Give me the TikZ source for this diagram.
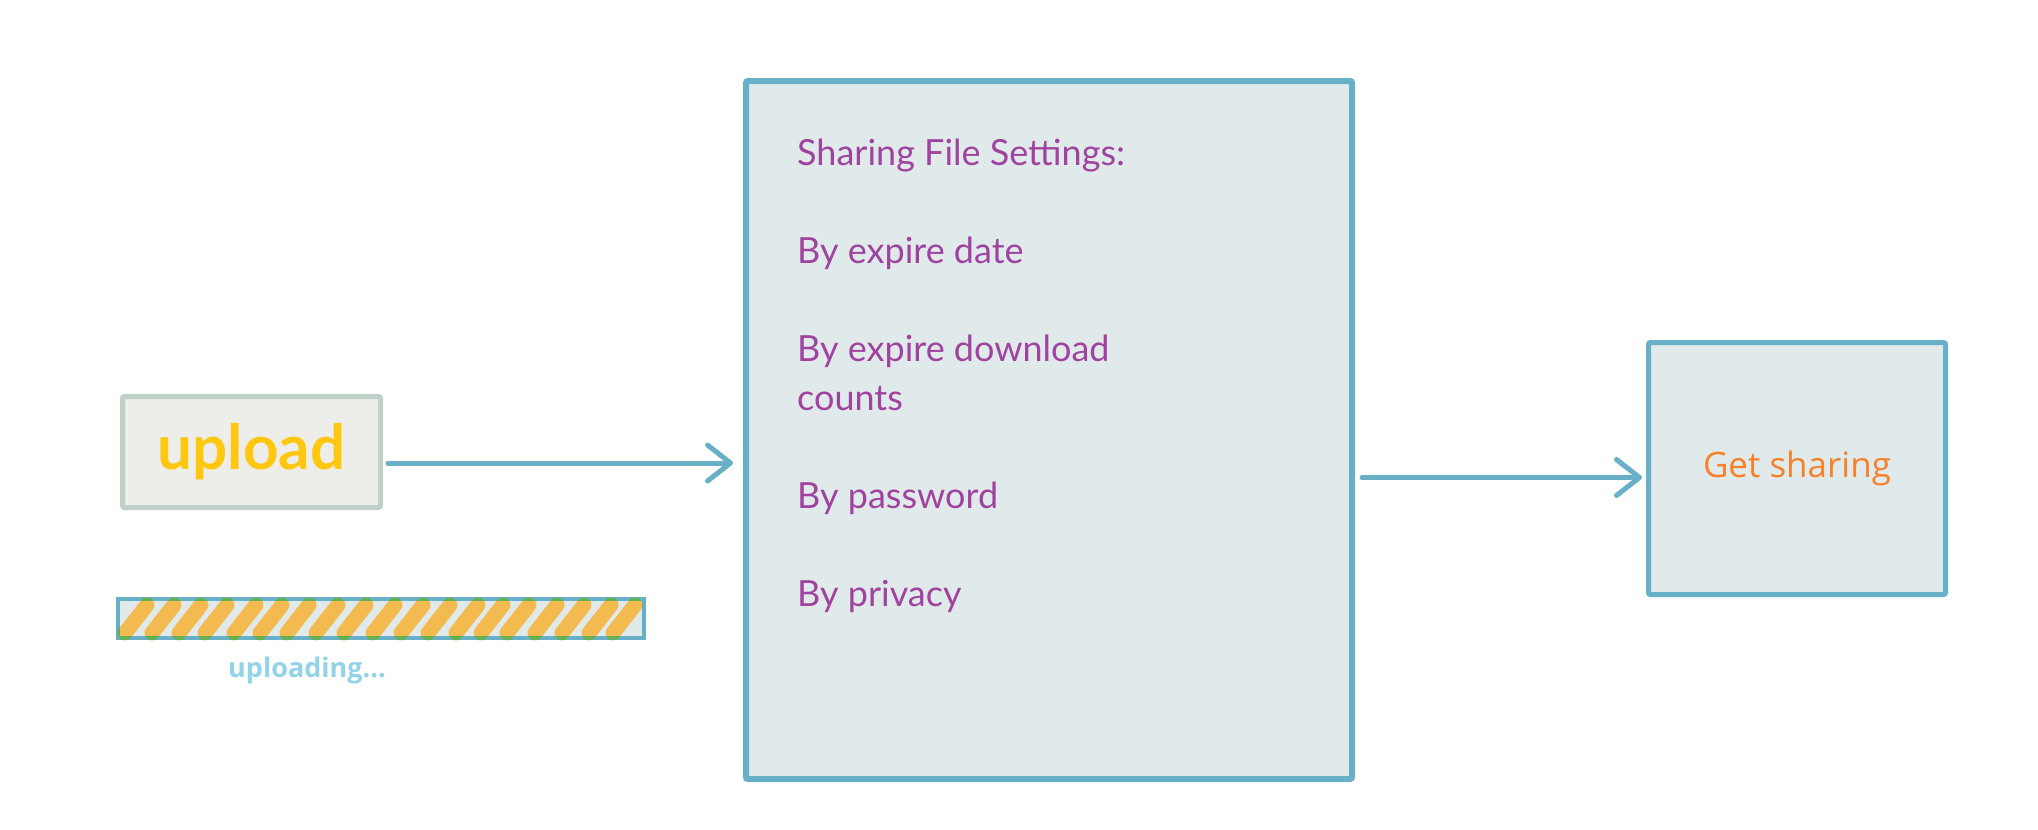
\documentclass[tikz,border=0pt]{standalone}
\usepackage{fontspec}
\usepackage{tikz}
\usetikzlibrary{arrows.meta}
\newfontfamily\handfont{Lato}
\newfontfamily\uifont{Open Sans}
\definecolor{boxline}{HTML}{67B0C7}
\definecolor{boxfill}{HTML}{E1EAEA}
\definecolor{uploadline}{HTML}{BDD1C7}
\definecolor{uploadfill}{HTML}{EDEDE9}
\definecolor{uploadtext}{HTML}{FFC710}
\definecolor{settingtext}{HTML}{A0429F}
\definecolor{sharetext}{HTML}{F7802A}
\definecolor{stripecol}{HTML}{F2BA4F}
\definecolor{labeltext}{HTML}{93D3E9}
\tikzstyle{box}=[draw=boxline, fill=boxfill, line width=6pt, rounded corners=2pt, inner sep=0pt]
\tikzstyle{uploadbox}=[draw=uploadline, fill=uploadfill, line width=5pt, rounded corners=2pt, inner sep=0pt, text=uploadtext, font=\handfont\bfseries\fontsize{62pt}{70pt}\selectfont]
\tikzstyle{barbox}=[fill=boxfill, line width=4pt, minimum width=526pt, minimum height=39pt, inner sep=0pt]
\tikzstyle{barline}=[draw=boxline, line width=4pt]
\tikzstyle{stripe}=[draw=stripecol, line width=15pt, line cap=round]
\tikzstyle{listtext}=[text=settingtext, align=left, inner sep=0pt, font=\handfont\fontsize{36pt}{49pt}\selectfont]
\tikzstyle{arr} = [draw=boxline, line width=5pt, line cap=round, -{Straight Barb[length=23pt, width=36pt, round]}]

\begin{document}
\begin{tikzpicture}[x=1pt, y=-1pt]
    \useasboundingbox (0,0) rectangle (2038,830);

    % left side: upload button and progress bar
    \node [uploadbox, minimum width=258pt, minimum height=111pt] (upload) at (251.5,452) {upload};
    \node [barbox] (bar) at (381,618.5) {};
    \foreach \x in {125,152,179,205,234,260,287,316,344,373,401,428,456,481,507,535,562,589,613}
        \draw [stripe] (\x,633) -- ++(22,-28);
    \begin{scope}[blend mode=darken]
        \draw [barline] ([shift={(2pt,-2pt)}]bar.north west) rectangle ([shift={(-2pt,2pt)}]bar.south east);
    \end{scope}
    \node [text=labeltext, font=\uifont\bfseries\fontsize{27pt}{32pt}\selectfont, anchor=base] (uploading) at (307,677) {uploading...};

    % settings and result
    \node [box, minimum width=606pt, minimum height=698pt] (settings) at (1049,430) {};
    \node [listtext, anchor=north west] (options) at (797,139) {Sharing File Settings:\\[49pt]By expire date\\[49pt]By expire download\\counts\\[49pt]By password\\[49pt]By privacy};
    \node [box, line width=5pt, minimum width=297pt, minimum height=252pt, text=sharetext, font=\uifont\fontsize{35pt}{42pt}\selectfont] (share) at (1797,468.5) {Get sharing};

    \coordinate (uploadOut) at ([yshift=-11pt]upload.east);
    \coordinate (shareIn) at ([yshift=-9pt]share.west);
    \path (uploadOut) edge[arr, shorten <=5pt, shorten >=10pt] (uploadOut -| settings.west);
    \path (shareIn -| settings.east) edge[arr, shorten <=7pt, shorten >=4pt] (shareIn);
\end{tikzpicture}
\end{document}
